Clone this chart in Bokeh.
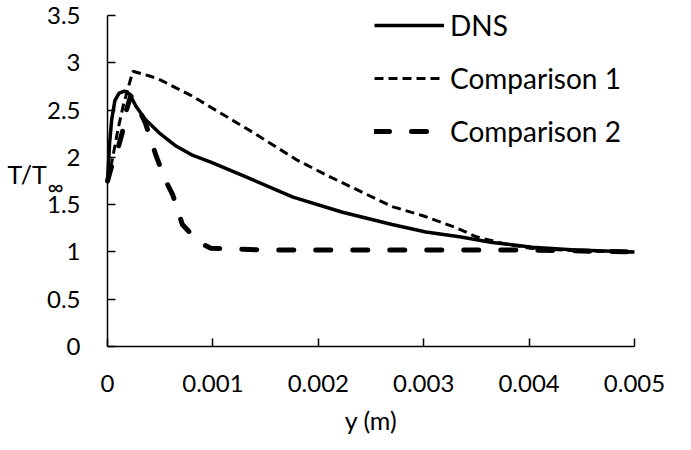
from bokeh.plotting import figure
from bokeh.models import Range1d, FixedTicker, NumeralTickFormatter, Legend, LegendItem, Label
from bokeh.embed import file_html
from bokeh.resources import INLINE

# ---- data ----
dns_x = [0, 0.00002, 0.00004, 0.00007, 0.00011, 0.00016, 0.00021, 0.00027, 0.00036, 0.00049,
         0.00065, 0.00081, 0.00098, 0.00128, 0.00176, 0.00223, 0.0027, 0.00302, 0.00334,
         0.00365, 0.00403, 0.00444, 0.005]
dns_y = [1.75, 2.15, 2.4, 2.6, 2.68, 2.70, 2.67, 2.54, 2.40, 2.26,
         2.12, 2.02, 1.95, 1.81, 1.58, 1.42, 1.29, 1.21, 1.16,
         1.10, 1.05, 1.02, 1.0]

comp1_x = [0, 0.00005, 0.0001, 0.00015, 0.00024, 0.0004, 0.0005, 0.0008, 0.0011, 0.0014,
           0.0018, 0.0021, 0.0024, 0.0027, 0.003, 0.0033, 0.0035, 0.00375, 0.004, 0.0045, 0.005]
comp1_y = [1.75, 2.0, 2.3, 2.55, 2.91, 2.86, 2.82, 2.65, 2.45, 2.25,
           1.97, 1.80, 1.64, 1.48, 1.38, 1.26, 1.16, 1.09, 1.04, 1.01, 1.0]

comp2_x = [0, 0.00005, 0.0001, 0.00014, 0.00018, 0.00022, 0.00028, 0.00036, 0.00046, 0.00054,
           0.00062, 0.00071, 0.00087, 0.00098, 0.0015, 0.002, 0.003, 0.004, 0.0045, 0.005]
comp2_y = [1.75, 1.95, 2.1, 2.26, 2.5, 2.65, 2.55, 2.36, 2.02, 1.78,
           1.60, 1.29, 1.10, 1.04, 1.02, 1.02, 1.02, 1.02, 1.01, 1.0]

series_names = ["DNS", "Comparison 1", "Comparison 2"]
x_ticks = [0, 0.001, 0.002, 0.003, 0.004, 0.005]
y_ticks = [0, 0.5, 1, 1.5, 2, 2.5, 3, 3.5]
x_min, x_max = 0, 0.005
y_min, y_max = 0, 3.5

FONT = "Lato"

# ---- layout (canvas pixels) ----
FRAME_W, FRAME_H = 671, 434          # frame spans the whole canvas region used
AX_LEFT, AX_RIGHT = 103, 630         # x=0 and x=0.005 inside the frame
AX_TOP, AX_BOTTOM = 15, 346          # y=3.5 and y=0 inside the frame
kx = (x_max - x_min) / (AX_RIGHT - AX_LEFT)
ky = (y_max - y_min) / (AX_BOTTOM - AX_TOP)
x_range = Range1d(x_min - AX_LEFT * kx, x_max + (FRAME_W - AX_RIGHT) * kx)
y_range = Range1d(y_min - (FRAME_H - AX_BOTTOM) * ky, y_max + AX_TOP * ky)

p = figure(frame_width=FRAME_W, frame_height=FRAME_H, x_range=x_range, y_range=y_range,
           output_backend="svg", toolbar_location=None,
           min_border_left=4, min_border_top=0, min_border_right=0, min_border_bottom=0)
p.xgrid.visible = False
p.ygrid.visible = False
p.outline_line_color = None
p.background_fill_color = "white"
p.border_fill_color = "white"

for ax in (p.xaxis[0], p.yaxis[0]):
    ax.axis_line_color = "black"
    ax.axis_line_width = 1.5
    ax.major_tick_line_color = "black"
    ax.major_tick_line_width = 1.5
    ax.major_tick_in = 8
    ax.major_tick_out = 0
    ax.minor_tick_line_color = None
    ax.major_label_text_font = FONT
    ax.major_label_text_font_size = "24px"
    ax.major_label_text_color = "black"

p.yaxis.fixed_location = x_min
p.xaxis.fixed_location = y_min
p.xaxis.bounds = (x_min, x_max)
p.yaxis.bounds = (y_min, y_max)

p.xaxis.ticker = FixedTicker(ticks=x_ticks)
p.yaxis.ticker = FixedTicker(ticks=y_ticks)
p.xaxis.formatter = NumeralTickFormatter(format="0.[000]")
p.yaxis.formatter = NumeralTickFormatter(format="0.[0]")
p.xaxis.major_label_standoff = 28
p.yaxis.major_label_standoff = 27

p.xaxis.axis_label = "y (m)"
p.xaxis.axis_label_text_font = FONT
p.xaxis.axis_label_text_font_size = "25px"
p.xaxis.axis_label_text_font_style = "normal"
p.xaxis.axis_label_text_color = "black"
p.xaxis.axis_label_standoff = 10

r1 = p.line(dns_x, dns_y, line_color="black", line_width=3.5, line_join="round")
r2 = p.line(comp1_x, comp1_y, line_color="black", line_width=3, line_dash="9 5")
r3 = p.line(comp2_x, comp2_y, line_color="black", line_width=5, line_dash="15 22",
            line_cap="round", line_join="round")

legend = Legend(items=[LegendItem(label=series_names[0], renderers=[r1]),
                       LegendItem(label=series_names[1], renderers=[r2]),
                       LegendItem(label=series_names[2], renderers=[r3])],
                location=(370, 285), padding=0, margin=0, spacing=17,
                glyph_width=70, glyph_height=36, label_height=36, label_standoff=6,
                label_text_font=FONT, label_text_font_size="28px", label_text_color="black",
                border_line_color=None, background_fill_alpha=0)
p.add_layout(legend)

# y title "T/T∞" (horizontal, with subscript infinity)
p.add_layout(Label(x=x_min - 100 * kx, y=y_min + 173 * ky, text="T/T", text_font=FONT,
                   text_font_size="25px", text_baseline="middle", text_align="left",
                   text_color="black"))
p.add_layout(Label(x=x_min - 60 * kx, y=y_min + 160 * ky, text="∞", text_font=FONT,
                   text_font_size="22px", text_baseline="middle", text_align="left",
                   text_color="black"))

open("out.html", "w").write(file_html(p, INLINE))
